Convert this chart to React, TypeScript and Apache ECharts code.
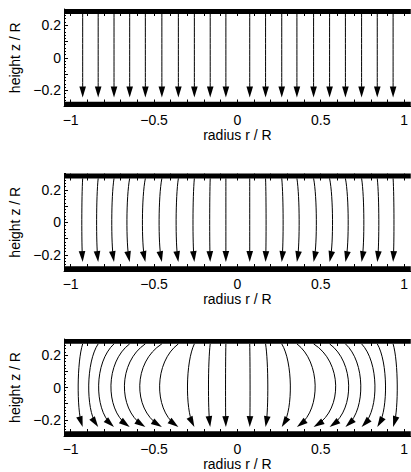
import React, { useEffect, useRef } from "react";
import * as echarts from "echarts";

// ---- data ----
const X_LABELS = [-1, -0.5, 0, 0.5, 1];
const X_TICKS = [-1, -0.9, -0.8, -0.7, -0.6, -0.5, -0.4, -0.3, -0.2, -0.1, 0, 0.1, 0.2, 0.3, 0.4, 0.5, 0.6, 0.7, 0.8, 0.9, 1];
const Y_LABELS = [-0.2, 0, 0.2];
const Y_MINOR = [-0.3, -0.28, -0.26, -0.24, -0.22, -0.2, -0.18, -0.16, -0.14, -0.12, -0.1, -0.08, -0.06, -0.04, -0.02, 0, 0.02, 0.04, 0.06, 0.08, 0.1, 0.12, 0.14, 0.16, 0.18, 0.2, 0.22, 0.24, 0.26, 0.28, 0.3];
const Y_MAJOR = [-0.2, -0.1, 0, 0.1, 0.2];

// start radius of each streamline (same in all three panels)
const LINE_X = [-0.928, -0.835, -0.74, -0.646, -0.552, -0.453, -0.354, -0.258, -0.163, -0.069, 0.074, 0.169, 0.266, 0.357, 0.457, 0.553, 0.648, 0.745, 0.839, 0.934];
// radial displacement of each streamline at mid height, per panel
const BULGE_TOP = [0, 0, 0, 0, 0, 0, 0, 0, 0, 0, 0, 0, 0, 0, 0, 0, 0, 0, 0, 0];
const BULGE_MID = [-0.005, -0.009, -0.013, -0.016, -0.017, -0.016, -0.013, -0.008, -0.003, 0, 0, 0.003, 0.008, 0.013, 0.016, 0.017, 0.016, 0.013, 0.009, 0.005];
const BULGE_BOTTOM = [-0.026, -0.055, -0.09, -0.11, -0.123, -0.13, -0.11, -0.04, -0.01, -0.002, 0.002, 0.013, 0.05, 0.107, 0.13, 0.112, 0.09, 0.078, 0.048, 0.024];
const PANEL_BULGES = [BULGE_TOP, BULGE_MID, BULGE_BOTTOM];

// plates (x from, z from, x to, z to)
const PLATES = [
  [-1.04, 0.27, 1.04, 0.3],
  [-1.04, -0.3, 1.04, -0.27],
];
const Z_START = 0.27;
const Z_TIP = -0.245;

const X_MIN = -1.04;
const X_MAX = 1.04;
const Y_MIN = -0.3;
const Y_MAX = 0.3;

const GRID_TOPS = [9, 173.5, 339];
const GRID_H = 97.5;
const GRID_LEFT = 64;
const GRID_W = 348.7;

const FONT = "'Liberation Sans', Arial, Helvetica, sans-serif";

const fmt = (v: number) => {
  if (v === 0) return "0";
  return (v < 0 ? "\u2212" : "") + String(Math.abs(v));
};

function arrowRender(params: any, api: any) {
  const x0 = api.value(0) as number;
  const dx = api.value(1) as number;
  const p0 = api.coord([x0, Z_START]);
  const p3 = api.coord([x0, Z_TIP]);
  const pm = api.coord([x0 + dx, 0]);
  const cx = p0[0] + (4 / 3) * (pm[0] - p0[0]);
  const H = p3[1] - p0[1];
  const a = 0.22;
  const c1y = p0[1] + H * a;
  const c2y = p0[1] + H * (1 - a);
  let tx = p3[0] - cx;
  let ty = p3[1] - c2y;
  const n = Math.sqrt(tx * tx + ty * ty) || 1;
  tx /= n;
  ty /= n;
  const L = 11;
  const W = 3.3;
  const bx = p3[0] - tx * L;
  const by = p3[1] - ty * L;
  return {
    type: "group",
    children: [
      {
        type: "bezierCurve",
        shape: {
          x1: p0[0],
          y1: p0[1],
          x2: p3[0] - tx * 4,
          y2: p3[1] - ty * 4,
          cpx1: cx,
          cpy1: c1y,
          cpx2: cx,
          cpy2: c2y,
        },
        style: { stroke: "#000", fill: null, lineWidth: 1 },
      },
      {
        type: "polygon",
        shape: {
          points: [
            [p3[0], p3[1]],
            [bx - ty * W, by + tx * W],
            [bx + ty * W, by - tx * W],
          ],
        },
        style: { fill: "#000", stroke: null },
      },
    ],
  };
}

function plateRender(params: any, api: any) {
  const a = api.coord([api.value(0), api.value(3)]);
  const b = api.coord([api.value(2), api.value(1)]);
  return {
    type: "rect",
    shape: { x: a[0], y: a[1], width: b[0] - a[0], height: b[1] - a[1] },
    style: { fill: "#000" },
  };
}

export default function App() {
  const ref = useRef<HTMLDivElement>(null);

  useEffect(() => {
    document.body.style.margin = "0";
    if (!ref.current) return;
    const chart = echarts.init(ref.current, undefined, { renderer: "svg" });

    const grid: any[] = [];
    const xAxis: any[] = [];
    const yAxis: any[] = [];
    const series: any[] = [];
    const textStyle = { color: "#000", fontFamily: FONT, fontSize: 14 };

    GRID_TOPS.forEach((top, i) => {
      grid.push({ left: GRID_LEFT, top, width: GRID_W, height: GRID_H, containLabel: false });
      xAxis.push({
        type: "value",
        gridIndex: i,
        min: X_MIN,
        max: X_MAX,
        position: "bottom",
        axisLine: { show: true, onZero: false, lineStyle: { color: "#000", width: 1 } },
        axisTick: { show: true, inside: true, length: 7, customValues: X_TICKS, lineStyle: { color: "#000", width: 1 } },
        axisLabel: { show: true, customValues: X_LABELS, formatter: fmt, margin: 6, ...textStyle },
        splitLine: { show: false },
        name: "radius r / R",
        nameLocation: "middle",
        nameGap: 21,
        nameTextStyle: textStyle,
      });
      xAxis.push({
        type: "value",
        gridIndex: i,
        min: X_MIN,
        max: X_MAX,
        position: "top",
        axisLine: { show: false, onZero: false },
        axisTick: { show: true, inside: true, length: 7, customValues: X_TICKS, lineStyle: { color: "#000", width: 1 } },
        axisLabel: { show: false },
        splitLine: { show: false },
      });
      yAxis.push({
        type: "value",
        gridIndex: i,
        min: Y_MIN,
        max: Y_MAX,
        position: "left",
        axisLine: { show: true, onZero: false, lineStyle: { color: "#000", width: 1 } },
        axisTick: { show: true, inside: true, length: 2, customValues: Y_MINOR, lineStyle: { color: "#000", width: 1 } },
        axisLabel: { show: true, customValues: Y_LABELS, formatter: fmt, margin: 3, ...textStyle },
        splitLine: { show: false },
        name: "height z / R",
        nameLocation: "middle",
        nameRotate: 90,
        nameGap: 29,
        nameTextStyle: textStyle,
      });
      yAxis.push({
        type: "value",
        gridIndex: i,
        min: Y_MIN,
        max: Y_MAX,
        position: "left",
        offset: 0,
        axisLine: { show: false, onZero: false },
        axisTick: { show: true, inside: true, length: 4, customValues: Y_MAJOR, lineStyle: { color: "#000", width: 1 } },
        axisLabel: { show: false },
        splitLine: { show: false },
      });

      series.push({
        type: "custom",
        xAxisIndex: 2 * i,
        yAxisIndex: 2 * i,
        clip: false,
        silent: true,
        z: 3,
        renderItem: arrowRender,
        data: LINE_X.map((x, k) => [x, PANEL_BULGES[i][k]]),
      });
      series.push({
        type: "custom",
        xAxisIndex: 2 * i,
        yAxisIndex: 2 * i,
        clip: false,
        silent: true,
        z: 4,
        renderItem: plateRender,
        encode: { x: [0, 2], y: [1, 3] },
        data: PLATES,
      });
    });

    chart.setOption({
      animation: false,
      backgroundColor: "#fff",
      grid,
      xAxis,
      yAxis,
      series,
    });

    return () => chart.dispose();
  }, []);

  return <div ref={ref} style={{ width: 411, height: 472 }} />;
}
